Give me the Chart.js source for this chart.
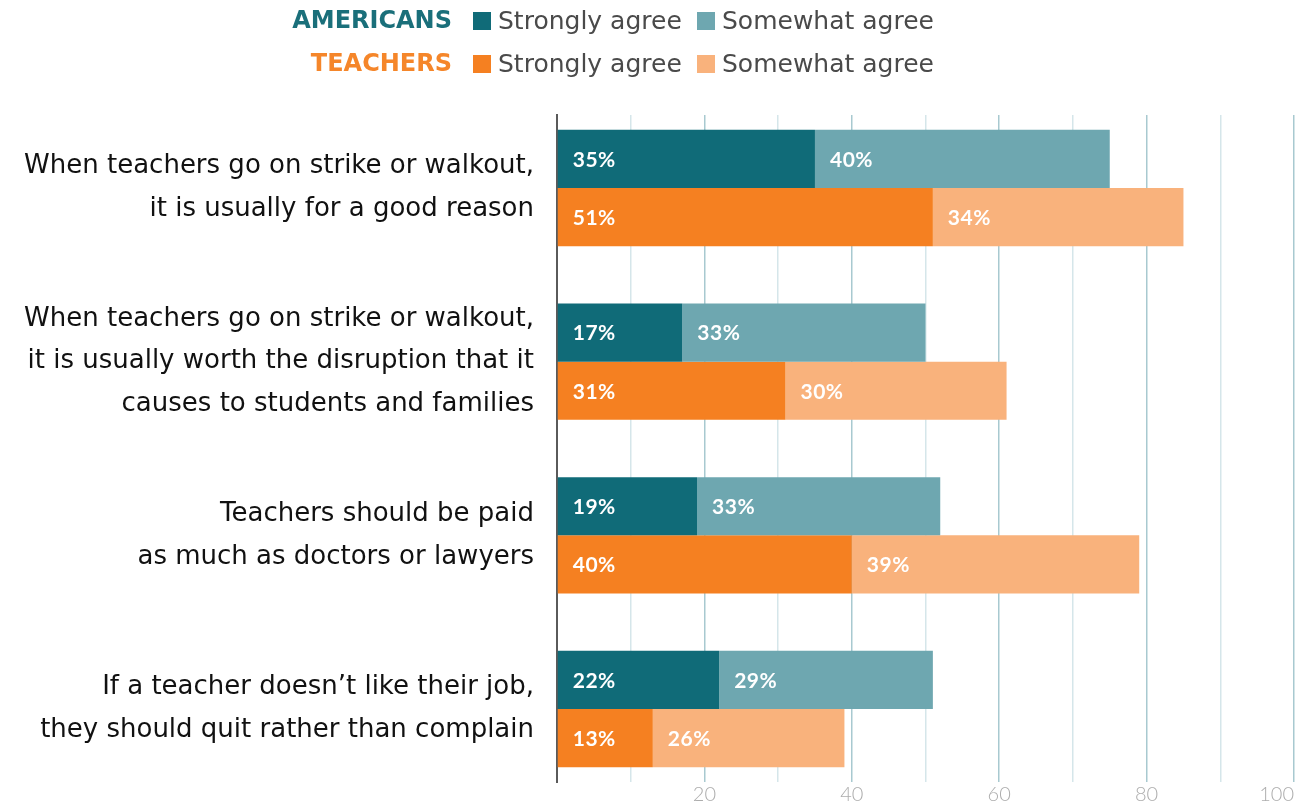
<!DOCTYPE html>
<html>
<head>
<meta charset="utf-8">
<script src="https://cdn.jsdelivr.net/npm/chart.js@4"></script>
<style>
  html, body { margin: 0; padding: 0; background: #fff; }
  #wrap { position: relative; width: 1306px; height: 804px; }
  #legend { position: absolute; left: 286px; top: -1px; display: grid;
    grid-template-columns: 166px 224px auto;
    font-family: 'DejaVu Sans', sans-serif; font-size: 25px; line-height: 43px; color: #4a4a4a; }
  #legend .grp { justify-self: end; font-weight: bold; font-size: 24px; }
  #legend .item { display: flex; align-items: center; white-space: nowrap; padding-left: 21px; }
  #legend .sw { flex: 0 0 18px; width: 18px; height: 18px; margin-right: 7px; }
  canvas { position: absolute; left: 0; top: 0; }
</style>
</head>
<body>
<div id="wrap">
  <canvas id="chart" width="1306" height="804"></canvas>
  <div id="legend"></div>
</div>
<script>
const statements = [
  ['When teachers go on strike or walkout,', 'it is usually for a good reason'],
  ['When teachers go on strike or walkout,', 'it is usually worth the disruption that it', 'causes to students and families'],
  ['Teachers should be paid', 'as much as doctors or lawyers'],
  ['If a teacher doesn\u2019t like their job,', 'they should quit rather than complain']
];
const americansStrongly = [35, 17, 19, 22];
const americansSomewhat = [40, 33, 33, 29];
const teachersStrongly = [51, 31, 40, 13];
const teachersSomewhat = [34, 30, 39, 26];
const xTicks = [20, 40, 60, 80, 100];

const colors = {
  amStrong: '#106b78', amSome: '#6ea7b0',
  teStrong: '#f58021', teSome: '#f9b27c',
  amText: '#1a6f7a', teText: '#f5862a'
};

// legend rows: group name, then the two swatches
const groups = [
  { name: 'AMERICANS', color: colors.amText, sw: [colors.amStrong, colors.amSome] },
  { name: 'TEACHERS', color: colors.teText, sw: [colors.teStrong, colors.teSome] }
];
document.getElementById('legend').innerHTML = groups.map(g =>
  `<div class="grp" style="color:${g.color}">${g.name}</div>` +
  `<div class="item"><span class="sw" style="background:${g.sw[0]}"></span>Strongly agree</div>` +
  `<div class="item"><span class="sw" style="background:${g.sw[1]}"></span>Somewhat agree</div>`
).join('');

// white percentage text at the start of each segment
const segmentLabels = {
  id: 'segmentLabels',
  afterDatasetsDraw(chart){
    const ctx = chart.ctx;
    ctx.save();
    ctx.fillStyle = '#fff';
    ctx.font = 'bold 21px Lato, sans-serif';
    if ('letterSpacing' in ctx) ctx.letterSpacing = '0.5px';
    ctx.textAlign = 'left';
    ctx.textBaseline = 'middle';
    chart.data.datasets.forEach((ds, di) => {
      chart.getDatasetMeta(di).data.forEach((bar, i) => {
        ctx.fillText(ds.data[i] + '%', Math.min(bar.base, bar.x) + 15, bar.y + 1);
      });
    });
    ctx.restore();
  }
};

const rows = statements.map((_, i) => i);

new Chart(document.getElementById('chart'), {
  type: 'bar',
  data: {
    labels: rows,
    datasets: [
      { data: americansStrongly, backgroundColor: colors.amStrong, stack: 'am' },
      { data: americansSomewhat, backgroundColor: colors.amSome, stack: 'am' },
      { data: teachersStrongly, backgroundColor: colors.teStrong, stack: 'te' },
      { data: teachersSomewhat, backgroundColor: colors.teSome, stack: 'te' }
    ]
  },
  options: {
    indexAxis: 'y',
    responsive: false,
    animation: false,
    categoryPercentage: 0.67,
    barPercentage: 1,
    layout: { padding: { top: 115, right: 12, left: 0, bottom: 0 } },
    plugins: { legend: { display: false }, tooltip: { enabled: false } },
    scales: {
      x: {
        stacked: true, min: 0, max: 100,
        afterFit: s => { s.height = 22; s.paddingLeft = 0; s.paddingRight = 0; },
        ticks: {
          stepSize: 10, padding: 3, color: '#adadad', maxRotation: 0, autoSkip: false, align: 'inner',
          font: { family: 'Lato', size: 20, weight: 300, lineHeight: 1 },
          callback: v => xTicks.includes(v) ? String(v) : ''
        },
        grid: {
          drawTicks: false, lineWidth: 1.5,
          color: c => c.tick && c.tick.value % 20 === 0 ? '#a8c9d0' : '#d5e6ea'
        },
        border: { display: false }
      },
      y: {
        type: 'linear', stacked: true, reverse: true, offset: false,
        min: -0.42, max: 3.42,
        afterBuildTicks: s => { s.ticks = rows.map(v => ({ value: v })); },
        afterFit: s => { s.width = 557; s.paddingTop = 0; s.paddingBottom = 0; },
        ticks: {
          padding: 23, color: '#111',
          font: { family: 'DejaVu Sans', size: 26, lineHeight: 1.65 },
          callback: v => statements[v]
        },
        grid: { display: false, drawTicks: false, offset: false },
        border: { display: true, color: '#5a5a5a', width: 2 }
      }
    }
  },
  plugins: [segmentLabels]
});
</script>
</body>
</html>
